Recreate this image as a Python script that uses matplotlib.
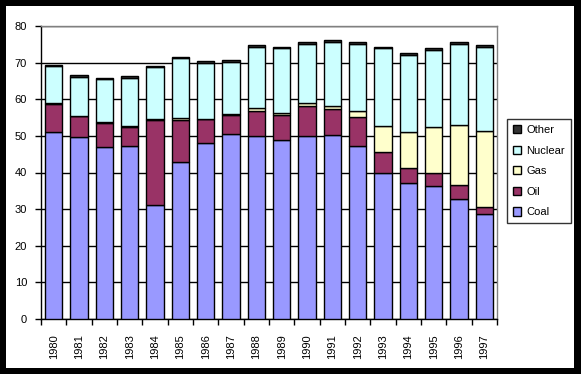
import matplotlib
matplotlib.use("Agg")
import matplotlib.pyplot as plt
from matplotlib.patches import Rectangle, Patch
import numpy as np

plt.rcParams['font.family'] = ['Liberation Sans', 'DejaVu Sans']

years = [str(y) for y in range(1980, 1998)]
coal    = [51.0, 49.6, 47.0, 47.3, 31.1, 42.8, 48.1, 50.5, 49.9, 48.8, 50.0, 50.2, 47.3, 39.9, 37.1, 36.2, 32.9, 28.6]
oil     = [7.8, 5.9, 6.6, 5.2, 23.1, 11.6, 6.4, 5.3, 6.9, 6.9, 8.2, 7.1, 7.9, 5.7, 4.2, 3.7, 3.7, 1.9]
gas     = [0.2, 0.0, 0.2, 0.2, 0.5, 0.5, 0.2, 0.1, 0.8, 0.6, 0.7, 0.9, 1.5, 7.1, 9.8, 12.6, 16.3, 20.9]
nuclear = [10.0, 10.7, 11.7, 13.1, 14.1, 16.3, 15.3, 14.4, 16.8, 17.7, 16.2, 17.5, 18.4, 21.3, 21.1, 21.0, 22.2, 22.9]
other   = [0.4, 0.5, 0.4, 0.6, 0.4, 0.4, 0.5, 0.3, 0.5, 0.4, 0.4, 0.4, 0.4, 0.4, 0.5, 0.5, 0.4, 0.4]

series = [("Coal", coal, "#9999FF"), ("Oil", oil, "#993366"), ("Gas", gas, "#FFFFCC"),
          ("Nuclear", nuclear, "#CCFFFF"), ("Other", other, "#333333")]

W, H = 581, 374
fig = plt.figure(figsize=(W/100, H/100), dpi=100, facecolor="black")
bg = Rectangle((6/W, 6/H), (574-6)/W, (368-6)/H, transform=fig.transFigure,
               facecolor="white", edgecolor="none", zorder=-10)
fig.patches.append(bg)

ax = fig.add_axes([41/W, (H-319)/H, (497-41)/W, (319-26)/H])
ax.set_zorder(1)
ax.set_facecolor("white")
x = np.arange(len(years))
bottom = np.zeros(len(years))
handles = []
for name, vals, col in series:
    v = np.array(vals)
    ax.bar(x, v, bottom=bottom, width=0.68, color=col, edgecolor="black", linewidth=1.0, zorder=3)
    bottom += v
    handles.append(Patch(facecolor=col, edgecolor="black", linewidth=1.0, label=name))

ax.set_xlim(-0.5, len(years) - 0.5)
ax.set_ylim(0, 80)
ax.set_yticks(range(0, 81, 10))
ax.yaxis.grid(True, color="black", linewidth=1.0, zorder=0)
ax.set_axisbelow(True)
ax.tick_params(axis="y", length=4, width=1, pad=6, labelsize=8, direction="out")
ax.set_xticks(x)
ax.set_xticklabels(years, rotation=90, fontsize=8)
ax.tick_params(axis="x", which="major", length=0, pad=11)
ax.set_xticks(np.arange(-0.5, len(years), 1.0), minor=True)
ax.tick_params(axis="x", which="minor", length=4, width=1, direction="out")
for s in ["left", "bottom"]:
    ax.spines[s].set_color("black")
    ax.spines[s].set_linewidth(1.0)
for s in ["top", "right"]:
    ax.spines[s].set_color("#808080")
    ax.spines[s].set_linewidth(1.0)

leg = fig.legend(handles=handles[::-1], loc="upper left",
                 bbox_to_anchor=(507/W, (H-119)/H), bbox_transform=fig.transFigure,
                 fontsize=8, frameon=True, fancybox=False, borderaxespad=0,
                 handlelength=0.75, handleheight=0.75, handletextpad=0.45,
                 labelspacing=0.95, borderpad=0.55)
leg.set_zorder(5)
leg.get_frame().set_edgecolor("black")
leg.get_frame().set_linewidth(1.0)

fig.savefig("out.png", dpi=100, facecolor="black")
